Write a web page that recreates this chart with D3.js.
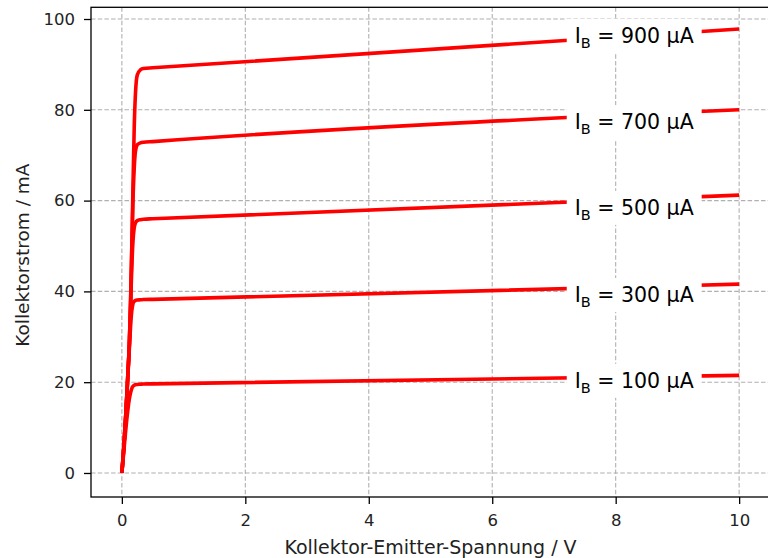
<!DOCTYPE html>
<html>
<head>
<meta charset="utf-8">
<script src="https://cdn.jsdelivr.net/npm/d3@7/dist/d3.min.js"></script>
<style>
  html, body { margin: 0; padding: 0; background: #fff; }
  svg { display: block; font-family: "DejaVu Sans", sans-serif; }
</style>
</head>
<body>
<svg id="chart" width="768" height="558"></svg>
<script>
// ---- data ----
const baseCurrents = ["100", "300", "500", "700", "900"];
const voltage = [0, 0.02, 0.04, 0.06, 0.08, 0.10, 0.12, 0.14, 0.16, 0.18, 0.20, 0.22, 0.25, 0.30, 0.35, 0.5, 10];
const current100 = [0, 3.0, 6.0, 9.0, 11.8, 14.2, 16.2, 17.6, 18.6, 19.1, 19.35, 19.45, 19.5, 19.55, 19.6, 19.63, 21.5];
const current300 = [0, 3.5, 7.5, 12, 17, 22, 27.0, 32.0, 35.6, 37.3, 37.8, 38.0, 38.1, 38.15, 38.2, 38.25, 41.6];
const current500 = [0, 3.5, 7.5, 12, 17, 22.5, 28.0, 36.0, 45.0, 51.0, 54.0, 55.1, 55.6, 55.8, 55.9, 56.0, 61.2];
const current700 = [0, 3.5, 7.5, 12, 17, 22.5, 28.0, 37.0, 49.0, 60.0, 67.0, 70.8, 72.3, 72.7, 72.85, 73.0, 80.0];
const current900 = [0, 3.5, 7.5, 12, 17, 22.5, 28.0, 37.0, 49.0, 63.0, 76.0, 83.5, 87.7, 88.8, 89.1, 89.25, 97.8];
const currentSeries = [current100, current300, current500, current700, current900];
const labelVoltage = 8.3;
const labelCurrent = [20.3, 39.2, 58.4, 77.3, 96.3];
const xTicks = [0, 2, 4, 6, 8, 10];
const yTicks = [0, 20, 40, 60, 80, 100];
const xLabel = "Kollektor-Emitter-Spannung / V";
const yLabel = "Kollektorstrom / mA";

// ---- layout ----
const svg = d3.select("#chart");
const pL = 91, pR = 770, pT = 7.3, pB = 497;
const x = d3.scaleLinear().domain([-0.5, 10.5]).range([pL, pR]);
const y = d3.scaleLinear().domain([-5.29, 102.58]).range([pB, pT]);

// grid
const grid = svg.append("g");
grid.selectAll(".gx").data(xTicks).join("line")
  .attr("x1", d => x(d)).attr("x2", d => x(d))
  .attr("y1", pT).attr("y2", pB)
  .attr("stroke", "#b0b0b0").attr("stroke-width", 1.1).attr("stroke-dasharray", "4.5,2.2");
grid.selectAll(".gy").data(yTicks).join("line")
  .attr("x1", pL).attr("x2", pR)
  .attr("y1", d => y(d)).attr("y2", d => y(d))
  .attr("stroke", "#b0b0b0").attr("stroke-width", 1.1).attr("stroke-dasharray", "4.5,2.2");

// lines
const line = d3.line().x(d => x(d[0])).y(d => y(d[1])).curve(d3.curveMonotoneX);
const lineG = svg.append("g");
currentSeries.forEach(vals => {
  const pts = voltage.map((v, i) => [v, vals[i]]);
  lineG.append("path").datum(pts)
    .attr("d", line)
    .attr("fill", "none").attr("stroke", "#ff0000")
    .attr("stroke-width", 3.6).attr("stroke-linejoin", "round").attr("stroke-linecap", "butt");
});

// inline labels
const labG = svg.append("g");
currentSeries.forEach((vals, k) => {
  const cx = x(labelVoltage), cy = y(labelCurrent[k]);
  const g = labG.append("g");
  const rect = g.append("rect").attr("fill", "#fff");
  const t = g.append("text")
    .attr("x", cx).attr("y", cy + 7.3)
    .attr("text-anchor", "middle")
    .attr("font-size", 20.5).attr("fill", "#000");
  t.append("tspan").text("I");
  t.append("tspan").attr("font-size", 14.5).attr("dy", 5).text("B");
  t.append("tspan").attr("dy", -5).text(" = " + baseCurrents[k] + " µA");
  const bb = t.node().getBBox();
  rect.attr("x", bb.x - 8).attr("y", cy - 17).attr("width", bb.width + 16).attr("height", 34);
});

// axes
const xAxis = svg.append("g").attr("transform", `translate(0,${pB})`)
  .call(d3.axisBottom(x).tickValues(xTicks).tickSize(7).tickPadding(10.5).tickFormat(d3.format("d")));
const yAxis = svg.append("g").attr("transform", `translate(${pL},0)`)
  .call(d3.axisLeft(y).tickValues(yTicks).tickSize(7).tickPadding(9).tickFormat(d3.format("d")));
[xAxis, yAxis].forEach(a => {
  a.select(".domain").remove();
  a.selectAll(".tick line").attr("stroke", "#000").attr("stroke-width", 1.3);
  a.selectAll(".tick text").attr("font-size", 16.5).attr("font-family", "DejaVu Sans").attr("fill", "#222");
});

// spines
svg.append("rect").attr("x", pL).attr("y", pT).attr("width", pR - pL).attr("height", pB - pT)
  .attr("fill", "none").attr("stroke", "#000").attr("stroke-width", 1.3);

// axis labels
svg.append("text").attr("x", (pL + pR) / 2).attr("y", 554)
  .attr("text-anchor", "middle").attr("font-size", 19).attr("fill", "#222").text(xLabel);
svg.append("text").attr("transform", `translate(29,${(pT + pB) / 2 + 3}) rotate(-90)`)
  .attr("text-anchor", "middle").attr("font-size", 18.5).attr("fill", "#222").text(yLabel);
</script>
</body>
</html>
